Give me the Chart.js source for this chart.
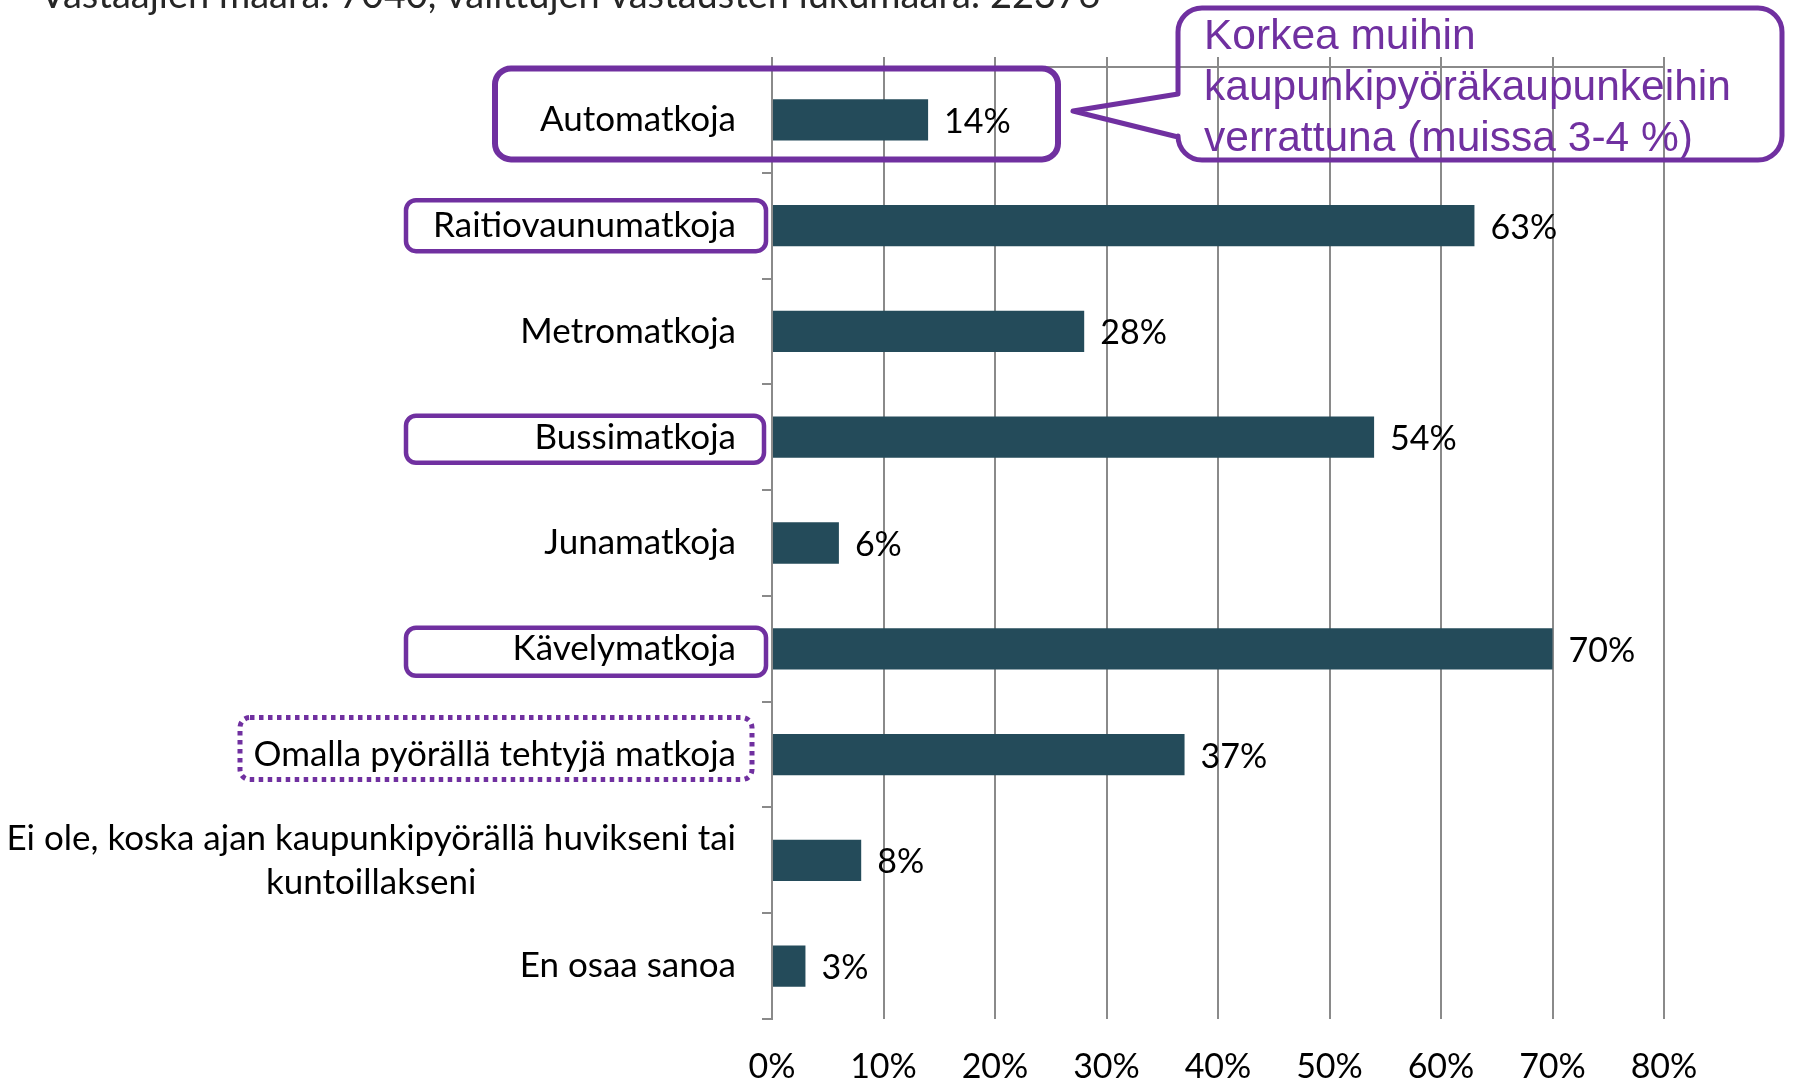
<!DOCTYPE html>
<html>
<head>
<meta charset="utf-8">
<script src="https://cdn.jsdelivr.net/npm/chart.js@4.4.1/dist/chart.umd.min.js"></script>
<style>
  html, body { margin: 0; padding: 0; background: #fff; }
  #wrap { width: 1793px; height: 1081px; position: relative; overflow: hidden; }
</style>
</head>
<body>
<div id="wrap"><canvas id="chart" width="1793" height="1081"></canvas></div>
<script>
// --- data ---
const categories = [
  'Automatkoja',
  'Raitiovaunumatkoja',
  'Metromatkoja',
  'Bussimatkoja',
  'Junamatkoja',
  'Kävelymatkoja',
  'Omalla pyörällä tehtyjä matkoja',
  ['Ei ole, koska ajan kaupunkipyörällä huvikseni tai', 'kuntoillakseni'],
  'En osaa sanoa'
];
const shares = [14, 63, 28, 54, 6, 70, 37, 8, 3];
const xTicks = [0, 10, 20, 30, 40, 50, 60, 70, 80];
const subtitle = 'Vastaajien määrä: 7040, valittujen vastausten lukumäärä: 22376';
const calloutLines = ['Korkea muihin', 'kaupunkipyöräkaupunkeihin', 'verrattuna (muissa 3-4 %)'];

// --- styles ---
const BAR = '#244b5a';
const GRID = '#8a8a8a';
const PURPLE = '#7030a0';
const LABEL_FONT = '"Lato", "DejaVu Sans", sans-serif';
const CAT_SIZE = 35;   // category labels
const NUM_SIZE = 34;   // bar values + axis ticks

// highlight frames around some category labels (offsets relative to row centre)
const frames = [
  { row: 0, x0: 495, x1: 1058, dy: -6, h: 91, r: 16, lw: 6, dash: null },
  { row: 1, x0: 406, x1: 766, dy: 0, h: 51, r: 10, lw: 4.5, dash: null },
  { row: 3, x0: 406, x1: 764, dy: 2, h: 47, r: 10, lw: 4.5, dash: null },
  { row: 5, x0: 406, x1: 766, dy: 3, h: 48, r: 10, lw: 4.5, dash: null },
  { row: 6, x0: 240, x1: 752, dy: -6, h: 62, r: 10, lw: 5, dash: [4.5, 4.5] }
];

function roundRect(ctx, x0, y0, x1, y1, r) {
  ctx.beginPath();
  ctx.moveTo(x0 + r, y0);
  ctx.arcTo(x1, y0, x1, y1, r);
  ctx.arcTo(x1, y1, x0, y1, r);
  ctx.arcTo(x0, y1, x0, y0, r);
  ctx.arcTo(x0, y0, x1, y0, r);
  ctx.closePath();
}

const overlay = {
  id: 'overlay',
  afterDatasetsDraw(chart) {
    const ctx = chart.ctx;
    ctx.save();
    ctx.font = NUM_SIZE + 'px ' + LABEL_FONT;
    ctx.fillStyle = '#000';
    ctx.textBaseline = 'middle';
    ctx.textAlign = 'left';
    chart.getDatasetMeta(0).data.forEach((bar, i) => {
      ctx.fillText(shares[i] + '%', bar.x + 16, bar.y + 2);
    });
    ctx.restore();
  },
  afterDraw(chart) {
    const ctx = chart.ctx;
    const y = chart.scales.y;
    ctx.save();

    // category labels
    ctx.font = CAT_SIZE + 'px ' + LABEL_FONT;
    ctx.fillStyle = '#000';
    ctx.textBaseline = 'middle';
    const right = 736;
    categories.forEach((lab, i) => {
      const cy = y.getPixelForTick(i);
      if (Array.isArray(lab)) {
        const w = Math.max(...lab.map(l => ctx.measureText(l).width));
        ctx.textAlign = 'center';
        const lh = 44;
        lab.forEach((l, k) => {
          ctx.fillText(l, right - w / 2, cy + (k - (lab.length - 1) / 2) * lh);
        });
      } else {
        ctx.textAlign = 'right';
        ctx.fillText(lab, right, cy);
      }
    });

    // subtitle, cut at the top edge
    ctx.font = '38px ' + LABEL_FONT;
    ctx.fillStyle = '#262626';
    ctx.textAlign = 'left';
    ctx.textBaseline = 'alphabetic';
    ctx.fillText(subtitle, 40, 8);

    // frames
    ctx.strokeStyle = PURPLE;
    frames.forEach(f => {
      const cy = y.getPixelForTick(f.row) + f.dy;
      ctx.lineWidth = f.lw;
      ctx.setLineDash(f.dash || []);
      roundRect(ctx, f.x0, cy - f.h / 2, f.x1, cy + f.h / 2, f.r);
      ctx.stroke();
    });
    ctx.setLineDash([]);

    // callout bubble
    const bx0 = 1178, by0 = 8, bx1 = 1782, by1 = 160, r = 24;
    ctx.lineWidth = 5;
    ctx.lineJoin = 'round';
    ctx.beginPath();
    ctx.moveTo(bx0 + r, by0);
    ctx.arcTo(bx1, by0, bx1, by1, r);
    ctx.arcTo(bx1, by1, bx0, by1, r);
    ctx.arcTo(bx0, by1, bx0, by0, r);
    ctx.lineTo(bx0, 137);
    ctx.lineTo(1073, 111);
    ctx.lineTo(bx0, 94);
    ctx.arcTo(bx0, by0, bx1, by0, r);
    ctx.closePath();
    ctx.stroke();

    ctx.fillStyle = PURPLE;
    ctx.font = '42.5px "Liberation Sans", Arial, sans-serif';
    ctx.textAlign = 'left';
    ctx.textBaseline = 'middle';
    calloutLines.forEach((l, k) => ctx.fillText(l, 1204, 37 + k * 51));

    ctx.restore();
  }
};

new Chart(document.getElementById('chart'), {
  type: 'bar',
  data: {
    labels: categories,
    datasets: [{
      data: shares,
      backgroundColor: BAR,
      borderWidth: 0,
      barPercentage: 0.39,
      categoryPercentage: 1
    }]
  },
  options: {
    indexAxis: 'y',
    responsive: false,
    animation: false,
    devicePixelRatio: 1,
    layout: { padding: { top: 57, right: 129, left: 0, bottom: 0 } },
    plugins: {
      legend: { display: false },
      tooltip: { enabled: false }
    },
    scales: {
      x: {
        position: 'bottom',
        min: 0,
        max: 80,
        afterBuildTicks: s => { s.ticks = xTicks.map(v => ({ value: v })); },
        ticks: {
          callback: v => v + '%',
          color: '#000',
          font: { family: LABEL_FONT, size: NUM_SIZE },
          padding: 28,
          maxRotation: 0
        },
        grid: { color: GRID, lineWidth: 2, drawTicks: false },
        border: { display: false },
        afterFit: s => { s.height = 62; }
      },
      x2: {
        position: 'top',
        min: 0,
        max: 80,
        afterBuildTicks: s => { s.ticks = xTicks.map(v => ({ value: v })); },
        ticks: { display: false },
        grid: { drawOnChartArea: false, tickLength: 10, color: GRID, lineWidth: 2 },
        border: { display: true, color: GRID, width: 2 }
      },
      y: {
        ticks: { display: false },
        grid: { drawOnChartArea: false, offset: true, tickLength: 10, color: GRID, lineWidth: 2 },
        border: { display: true, color: GRID, width: 2 },
        afterFit: s => { s.width = 772; }
      }
    }
  },
  plugins: [overlay]
});
</script>
</body>
</html>
